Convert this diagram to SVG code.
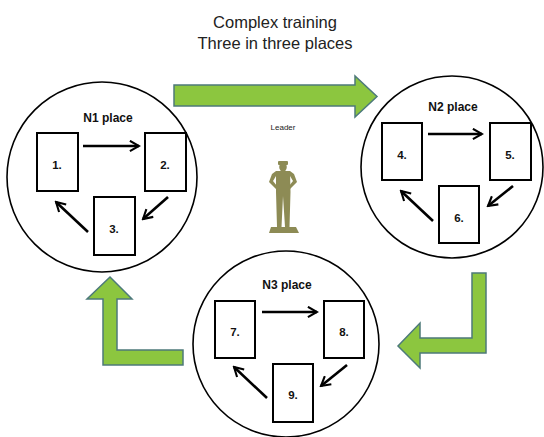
<svg xmlns="http://www.w3.org/2000/svg" width="544" height="437" viewBox="0 0 544 437">
<style>
.title{font-family:"Liberation Sans",Arial,sans-serif;font-size:16.5px;fill:#222;text-anchor:middle}
.place{font-family:"Liberation Sans",Arial,sans-serif;font-size:12px;font-weight:bold;fill:#111;text-anchor:middle}
.num{font-family:"Liberation Sans",Arial,sans-serif;font-size:11.5px;font-weight:bold;fill:#111;text-anchor:middle}
.small{font-family:"Liberation Sans",Arial,sans-serif;font-size:8px;fill:#222;text-anchor:middle}
.circ{fill:#fff;stroke:#000;stroke-width:1.6}
.box{fill:#fff;stroke:#000;stroke-width:2}
.arr{fill:none;stroke:#000;stroke-width:2.6;marker-end:url(#ah)}
.big{fill:#8cc63f;stroke:#4d7a7a;stroke-width:1.5;stroke-linejoin:miter}
.fig{fill:#8d8b55}
</style>
<defs>
<marker id="ah" viewBox="0 0 10 10" refX="8.5" refY="5" markerWidth="5" markerHeight="5" orient="auto" markerUnits="strokeWidth">
<path d="M1.5,1 L8.5,5 L1.5,9" fill="none" stroke="#000" stroke-width="1.6"/>
</marker>
</defs>
<rect width="544" height="437" fill="#fff"/>
<text class="title" x="275" y="28">Complex training</text>
<text class="title" x="275" y="49">Three in three places</text>
<g id="connectors">
<path class="big" d="M174,85 L355,85 L355,76 L377,96.5 L355,117 L355,106 L174,106 Z"/>
<path class="big" d="M486,273 L486,353 L420,353 L420,368 L398,346 L420,323 L420,338 L472,338 L472,273 Z"/>
<path class="big" d="M183,350 L117,350 L117,299 L132,299 L110,277 L87,299 L103,299 L103,365 L183,365 Z"/>
</g>
<text class="small" x="283" y="130">Leader</text>
<g id="leader">
<rect class="fig" x="278" y="161" width="10" height="4" rx="1"/>
<ellipse class="fig" cx="283" cy="167" rx="3.8" ry="4.5"/>
<path class="fig" d="M276,171 L290,171 L290.5,192 L289.5,227 L285,227 L283,196 L281.5,227 L277,227 L276,192 Z"/>
<path class="fig" d="M276,171 L272,174 L269,182 L276,189 L277,186 L273,181 L276,176 Z"/>
<path class="fig" d="M290,171 L294,174 L297,182 L290,189 L289,186 L293,181 L290,176 Z"/>
<path class="fig" d="M271,227 L296,227 L299,233 L269,233 Z"/>
</g>
<g id="n1">
<circle class="circ" cx="102" cy="177" r="95"/>
<text class="place" x="108" y="122">N1 place</text>
<rect class="box" x="37" y="133" width="41" height="58"/>
<text class="num" x="57" y="169">1.</text>
<rect class="box" x="145" y="133" width="41" height="58"/>
<text class="num" x="165" y="169">2.</text>
<rect class="box" x="94" y="197" width="41" height="58"/>
<text class="num" x="114" y="233">3.</text>
</g>
<g id="n2">
<circle class="circ" cx="452" cy="167" r="91"/>
<text class="place" x="453" y="111">N2 place</text>
<rect class="box" x="382" y="123" width="40" height="57"/>
<text class="num" x="402" y="159">4.</text>
<rect class="box" x="490" y="123" width="41" height="57"/>
<text class="num" x="510" y="159">5.</text>
<rect class="box" x="439" y="186" width="40" height="57"/>
<text class="num" x="459" y="222">6.</text>
</g>
<g id="n3">
<circle class="circ" cx="286" cy="344" r="93"/>
<text class="place" x="287" y="289">N3 place</text>
<rect class="box" x="215" y="301" width="40" height="57"/>
<text class="num" x="235" y="336">7.</text>
<rect class="box" x="324" y="301" width="40" height="57"/>
<text class="num" x="344" y="336">8.</text>
<rect class="box" x="273" y="364" width="40" height="58"/>
<text class="num" x="293" y="399">9.</text>
</g>
<g id="flow-arrows">
<line class="arr" x1="83" y1="146" x2="139" y2="146"/>
<line class="arr" x1="168" y1="197" x2="143" y2="219"/>
<line class="arr" x1="88" y1="232" x2="56" y2="202"/>
<line class="arr" x1="428" y1="134" x2="482" y2="134"/>
<line class="arr" x1="513" y1="186" x2="488" y2="206"/>
<line class="arr" x1="433" y1="221" x2="401" y2="191"/>
<line class="arr" x1="262" y1="312" x2="317" y2="312"/>
<line class="arr" x1="347" y1="365" x2="321" y2="386"/>
<line class="arr" x1="267" y1="398" x2="234" y2="367"/>
</g>
</svg>
